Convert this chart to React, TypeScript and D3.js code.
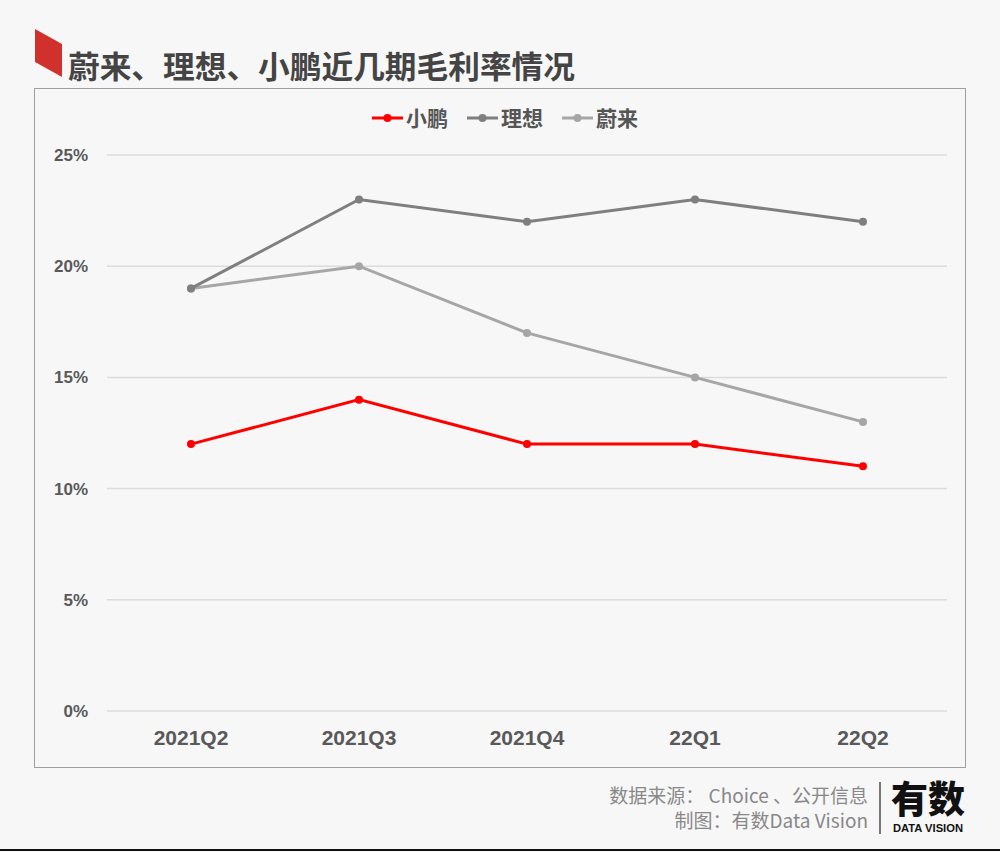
import React from "react";
import * as d3 from "d3";

const categories = ["2021Q2", "2021Q3", "2021Q4", "22Q1", "22Q2"];
const xpeng = [12, 14, 12, 12, 11];
const lixiang = [19, 23, 22, 23, 22];
const nio = [19, 20, 17, 15, 13];
const yTicks = [0, 5, 10, 15, 20, 25];

const series = [
  { name: "小鹏", values: xpeng, color: "#ff0000" },
  { name: "理想", values: lixiang, color: "#7f7f7f" },
  { name: "蔚来", values: nio, color: "#a6a6a6" },
];

const W = 1000;
const H = 852;
const font = "'Noto Sans CJK SC', 'Noto Sans', sans-serif";
const latin = "'Liberation Sans', Arial, sans-serif";

export default function App() {
  const x = d3.scaleBand<string>().domain(categories).range([107, 947]);
  const y = d3.scaleLinear().domain([0, 25]).range([711, 155]);
  const line = d3
    .line<number>()
    .x((_, i) => (x(categories[i]) as number) + x.bandwidth() / 2)
    .y((d) => y(d));

  const legendX = [372, 467, 562];

  return (
    <svg
      width={W}
      height={H}
      style={{ position: "absolute", left: 0, top: 0, display: "block" }}
      fontFamily={font}
    >
      <rect x={0} y={0} width={W} height={H} fill="#f7f7f7" />
      {/* title */}
      <polygon points="35,29 62,44 62,77 35,62" fill="#d0312d" />
      <text x={68} y={78} fontSize={31} fontWeight={700} fill="#444" textLength={507} lengthAdjust="spacingAndGlyphs">
        蔚来、理想、小鹏近几期毛利率情况
      </text>
      {/* chart frame */}
      <rect x={34.5} y={88.5} width={931} height={679} fill="#f7f7f7" stroke="#a0a0a0" strokeWidth={1} />
      {/* grid */}
      {yTicks.map((t) => (
        <g key={t}>
          <line x1={107} x2={947} y1={y(t)} y2={y(t)} stroke="#dcdcdc" strokeWidth={1.5} />
          <text x={88} y={y(t) + 6} fontSize={17} fontWeight={700} fill="#595959" textAnchor="end" fontFamily={latin}>
            {t}%
          </text>
        </g>
      ))}
      {/* x labels */}
      {categories.map((c) => (
        <text
          key={c}
          x={(x(c) as number) + x.bandwidth() / 2}
          y={745}
          fontSize={21}
          fontWeight={700}
          fill="#595959"
          textAnchor="middle"
          fontFamily={latin}
        >
          {c}
        </text>
      ))}
      {/* lines */}
      {[...series].reverse().map((s) => (
        <g key={s.name}>
          <path d={line(s.values) || ""} fill="none" stroke={s.color} strokeWidth={3} />
          {s.values.map((v, i) => (
            <circle
              key={i}
              cx={(x(categories[i]) as number) + x.bandwidth() / 2}
              cy={y(v)}
              r={4}
              fill={s.color}
            />
          ))}
        </g>
      ))}
      {/* legend */}
      {series.map((s, i) => (
        <g key={s.name}>
          <line x1={legendX[i]} x2={legendX[i] + 31} y1={118} y2={118} stroke={s.color} strokeWidth={3} />
          <circle cx={legendX[i] + 15.5} cy={118} r={4} fill={s.color} />
          <text x={legendX[i] + 34} y={126} fontSize={21} fontWeight={700} fill="#555">
            {s.name}
          </text>
        </g>
      ))}
      {/* footer */}
      <text x={868} y={803} fontSize={19} fill="#888" textAnchor="end">
        数据来源： Choice 、公开信息
      </text>
      <text x={868} y={828} fontSize={19} fill="#888" textAnchor="end">
        制图：有数Data Vision
      </text>
      <line x1={880} x2={880} y1={782} y2={834} stroke="#777" strokeWidth={2} />
      <text x={928} y={813} fontSize={37} fontWeight={900} fill="#111" textAnchor="middle">
        有数
      </text>
      <text x={928} y={832} fontSize={11} fontWeight={700} fill="#111" textAnchor="middle" fontFamily={latin} textLength={70} lengthAdjust="spacingAndGlyphs">
        DATA VISION
      </text>
      <line x1={0} x2={W} y1={850} y2={850} stroke="#111" strokeWidth={2} />
    </svg>
  );
}
